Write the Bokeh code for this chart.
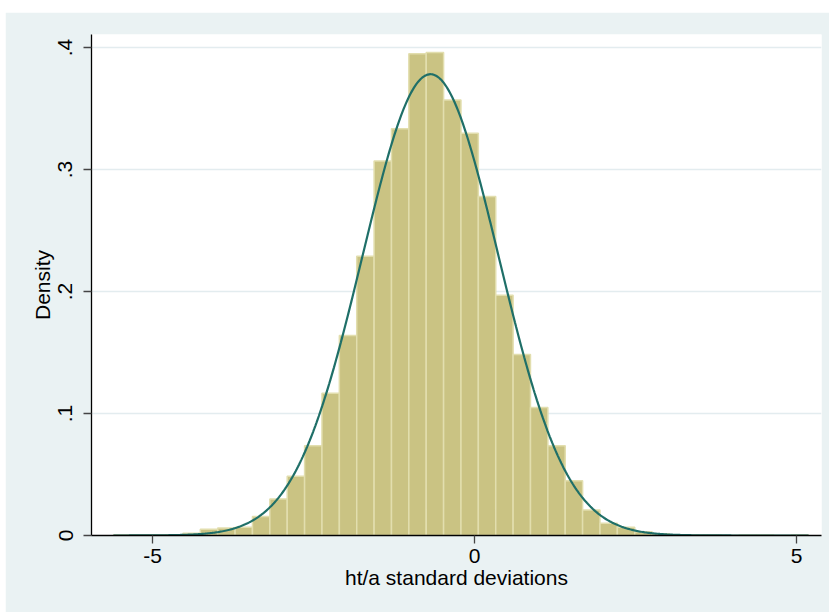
import numpy as np
from bokeh.plotting import figure
from bokeh.models import FixedTicker, CustomJSTickFormatter, Range1d, Spacer
from bokeh.layouts import column, row
from bokeh.embed import file_html
from bokeh.resources import INLINE

# ---- data ----
hist_start = -5.606      # left edge of first bin
bin_width = 0.2698       # 40 bins
densities = [0.0004, 0.0004, 0.0004, 0.0007, 0.0019, 0.0052, 0.0062, 0.0068,
             0.0156, 0.0300, 0.0486, 0.0735, 0.1166, 0.1640, 0.2290, 0.3070,
             0.3335, 0.3950, 0.3960, 0.3570, 0.3298, 0.2780, 0.1970, 0.1484,
             0.1049, 0.0735, 0.0448, 0.0210, 0.0100, 0.0067, 0.0031, 0.0015,
             0.0007, 0.0004, 0.0004, 0.0000, 0.0004, 0.0004, 0.0000, 0.0004]
normal_mean = -0.683
normal_sd = 1.055
x_ticks = [-5, 0, 5]
y_ticks = [0, 0.1, 0.2, 0.3, 0.4]
x_title = "ht/a standard deviations"
y_title = "Density"

# ---- derived ----
n = len(densities)
lefts = [hist_start + i * bin_width for i in range(n)]
rights = [l + bin_width for l in lefts]
data_min, data_max = lefts[0], rights[-1]
xs = np.linspace(data_min, data_max, 600)
ys = np.exp(-0.5 * ((xs - normal_mean) / normal_sd) ** 2) / (normal_sd * np.sqrt(2 * np.pi))

BG = "#EAF2F3"
FONT = "Liberation Sans"

p = figure(output_backend="svg", toolbar_location=None,
           frame_width=730, frame_height=501,
           min_border_left=86, min_border_right=8, min_border_top=22, min_border_bottom=77,
           x_range=Range1d(-5.947, 5.388), y_range=Range1d(0, 0.4107))
p.border_fill_color = BG
p.background_fill_color = "white"
p.outline_line_color = None

p.quad(left=lefts, right=rights, top=densities, bottom=0,
       fill_color="#CAC383", line_color="#E2DEAE", line_width=1.5)
p.line(xs, ys, line_color="#1F6F68", line_width=2.2)

p.xgrid.visible = False
p.ygrid.grid_line_color = "#E3ECEF"
p.ygrid.grid_line_width = 1.5
p.ygrid.ticker = FixedTicker(ticks=y_ticks)

p.xaxis.ticker = FixedTicker(ticks=x_ticks)
p.xaxis.formatter = CustomJSTickFormatter(code="return String(tick);")
p.yaxis.ticker = FixedTicker(ticks=y_ticks)
p.yaxis.formatter = CustomJSTickFormatter(code="""
if (Math.abs(tick) < 1e-9) return "0";
return tick.toFixed(1).replace(/^0/, "");
""")
p.yaxis.major_label_orientation = "vertical"

for ax in (p.xaxis[0], p.yaxis[0]):
    ax.axis_line_color = "black"
    ax.axis_line_width = 1.3
    ax.major_tick_line_color = "#444444"
    ax.major_tick_line_width = 1.3
    ax.major_tick_out = 8
    ax.major_tick_in = 0
    ax.minor_tick_line_color = None
    ax.major_label_text_font = FONT
    ax.major_label_text_font_size = "21px"
    ax.major_label_text_color = "black"
    ax.axis_label_text_font = FONT
    ax.axis_label_text_font_size = "21px"
    ax.axis_label_text_font_style = "normal"
    ax.axis_label_text_color = "black"

p.xaxis.axis_label = x_title
p.yaxis.axis_label = y_title
p.xaxis.major_label_standoff = 5
p.xaxis.axis_label_standoff = 0
p.yaxis.major_label_standoff = 11
p.yaxis.axis_label_standoff = 2

layout = column(Spacer(height=12, width=829), row(Spacer(width=5, height=600), p))
open("out.html", "w").write(file_html(layout, INLINE))
